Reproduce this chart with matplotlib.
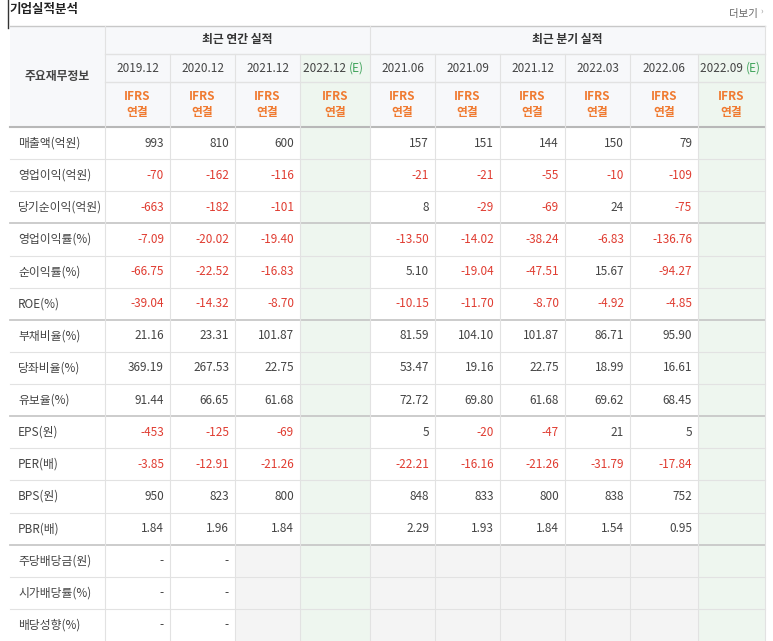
import matplotlib
matplotlib.use('Agg')
import matplotlib.pyplot as plt
from matplotlib.patches import Rectangle

plt.rcParams['font.family'] = 'Noto Sans CJK KR'

periods = ['2019.12', '2020.12', '2021.12', '2022.12', '2021.06', '2021.09',
           '2021.12', '2022.03', '2022.06', '2022.09']
estimate = [False, False, False, True, False, False, False, False, False, True]
row_labels = ['매출액(억원)', '영업이익(억원)', '당기순이익(억원)', '영업이익률(%)',
              '순이익률(%)', 'ROE(%)', '부채비율(%)', '당좌비율(%)', '유보율(%)',
              'EPS(원)', 'PER(배)', 'BPS(원)', 'PBR(배)', '주당배당금(원)',
              '시가배당률(%)', '배당성향(%)']
values = [
    ['993', '810', '600', '', '157', '151', '144', '150', '79', ''],
    ['-70', '-162', '-116', '', '-21', '-21', '-55', '-10', '-109', ''],
    ['-663', '-182', '-101', '', '8', '-29', '-69', '24', '-75', ''],
    ['-7.09', '-20.02', '-19.40', '', '-13.50', '-14.02', '-38.24', '-6.83', '-136.76', ''],
    ['-66.75', '-22.52', '-16.83', '', '5.10', '-19.04', '-47.51', '15.67', '-94.27', ''],
    ['-39.04', '-14.32', '-8.70', '', '-10.15', '-11.70', '-8.70', '-4.92', '-4.85', ''],
    ['21.16', '23.31', '101.87', '', '81.59', '104.10', '101.87', '86.71', '95.90', ''],
    ['369.19', '267.53', '22.75', '', '53.47', '19.16', '22.75', '18.99', '16.61', ''],
    ['91.44', '66.65', '61.68', '', '72.72', '69.80', '61.68', '69.62', '68.45', ''],
    ['-453', '-125', '-69', '', '5', '-20', '-47', '21', '5', ''],
    ['-3.85', '-12.91', '-21.26', '', '-22.21', '-16.16', '-21.26', '-31.79', '-17.84', ''],
    ['950', '823', '800', '', '848', '833', '800', '838', '752', ''],
    ['1.84', '1.96', '1.84', '', '2.29', '1.93', '1.84', '1.54', '0.95', ''],
    ['-', '-', '', '', '', '', '', '', '', ''],
    ['-', '-', '', '', '', '', '', '', '', ''],
    ['-', '-', '', '', '', '', '', '', '', ''],
]

W, H = 773, 641
col_x = [10, 105, 170, 235, 300, 370, 435, 500, 565, 630, 698, 765]
top, h1, h2, h3 = 26, 54, 82, 127
row_h = (641 - h3) / len(row_labels)
group_breaks = [3, 6, 9, 13]

fig = plt.figure(figsize=(W / 100, H / 100), dpi=100)
ax = fig.add_axes([0, 0, 1, 1])
ax.set_xlim(0, W)
ax.set_ylim(H, 0)
ax.axis('off')

head_bg = '#f7f8fa'
green_bg = '#eef6ef'
line_c = '#e2e2e2'
dark_line = '#c8c8c8'
red = '#e03c31'
orange = '#f07a30'
txt = '#444444'

# header backgrounds
ax.add_patch(Rectangle((col_x[0], top), col_x[-1] - col_x[0], h3 - top, color=head_bg, lw=0))
for i, e in enumerate(estimate):
    if e:
        ax.add_patch(Rectangle((col_x[i + 1], h1), col_x[i + 2] - col_x[i + 1], H - h1,
                               color=green_bg, lw=0))
# grey empty cells in dividend rows
for r in range(13, 16):
    y0 = h3 + r * row_h
    for i in range(2, 10):
        if not estimate[i]:
            ax.add_patch(Rectangle((col_x[i + 1], y0), col_x[i + 2] - col_x[i + 1], row_h,
                                   color='#f4f4f4', lw=0))

ax.text(10, 10, '기업실적분석', fontsize=9, fontweight='bold', color='#222222', va='center')
ax.text(758, 14, '더보기', fontsize=7.5, color='#666666', va='center', ha='right')
ax.text(760, 11, '›', fontsize=6, color='#999999', va='center', ha='left')
ax.plot([8, 8], [0, 28], color='#333333', lw=1)

ax.text((col_x[1] + col_x[5]) / 2, (top + h1) / 2, '최근 연간 실적', fontsize=8.5,
        fontweight='bold', color='#333333', ha='center', va='center')
ax.text((col_x[5] + col_x[-1]) / 2, (top + h1) / 2, '최근 분기 실적', fontsize=8.5,
        fontweight='bold', color='#333333', ha='center', va='center')
ax.text((col_x[0] + col_x[1]) / 2, (top + h3) / 2, '주요재무정보', fontsize=8.5,
        fontweight='bold', color='#444444', ha='center', va='center')

for i, p in enumerate(periods):
    cx = (col_x[i + 1] + col_x[i + 2]) / 2
    if estimate[i]:
        ax.text(cx + 14, (h1 + h2) / 2, p + ' ', fontsize=8.5, color=txt, ha='right',
                va='center')
        ax.text(cx + 14, (h1 + h2) / 2, '(E)', fontsize=8.5, color='#3fa35a', ha='left',
                va='center')
    else:
        ax.text(cx, (h1 + h2) / 2, p, fontsize=8.5, color=txt, ha='center', va='center')
    ax.text(cx, (h2 + h3) / 2 - 8, 'IFRS', fontsize=8.5, color=orange, ha='center',
            va='center', fontweight='bold')
    ax.text(cx, (h2 + h3) / 2 + 8, '연결', fontsize=8.5, color=orange, ha='center',
            va='center', fontweight='bold')

for r, lab in enumerate(row_labels):
    cy = h3 + (r + 0.5) * row_h
    ax.text(18, cy, lab, fontsize=8.5, color=txt, ha='left', va='center')
    for i, v in enumerate(values[r]):
        if not v:
            continue
        color = red if v.startswith('-') and v != '-' else txt
        ax.text(col_x[i + 2] - 6, cy, v, fontsize=8.5, color=color, ha='right', va='center')

# grid lines
ax.plot([col_x[0], col_x[-1]], [top, top], color=dark_line, lw=1)
ax.plot([col_x[1], col_x[-1]], [h1, h1], color=line_c, lw=1)
ax.plot([col_x[1], col_x[-1]], [h2, h2], color=line_c, lw=1)
ax.plot([col_x[0], col_x[-1]], [h3, h3], color='#b8b8b8', lw=1.5)
for r in range(1, len(row_labels)):
    y = h3 + r * row_h
    if r in group_breaks:
        ax.plot([col_x[0], col_x[-1]], [y, y], color=dark_line, lw=1.3)
    else:
        ax.plot([col_x[0], col_x[-1]], [y, y], color=line_c, lw=0.8)
for k, x in enumerate(col_x[1:-1], start=1):
    y0 = top if k in (1, 5) else h1
    ax.plot([x, x], [y0, H], color=line_c, lw=0.8)
ax.plot([col_x[-1], col_x[-1]], [top, H], color=line_c, lw=0.8)

fig.savefig('out.png', dpi=100, facecolor='white')
